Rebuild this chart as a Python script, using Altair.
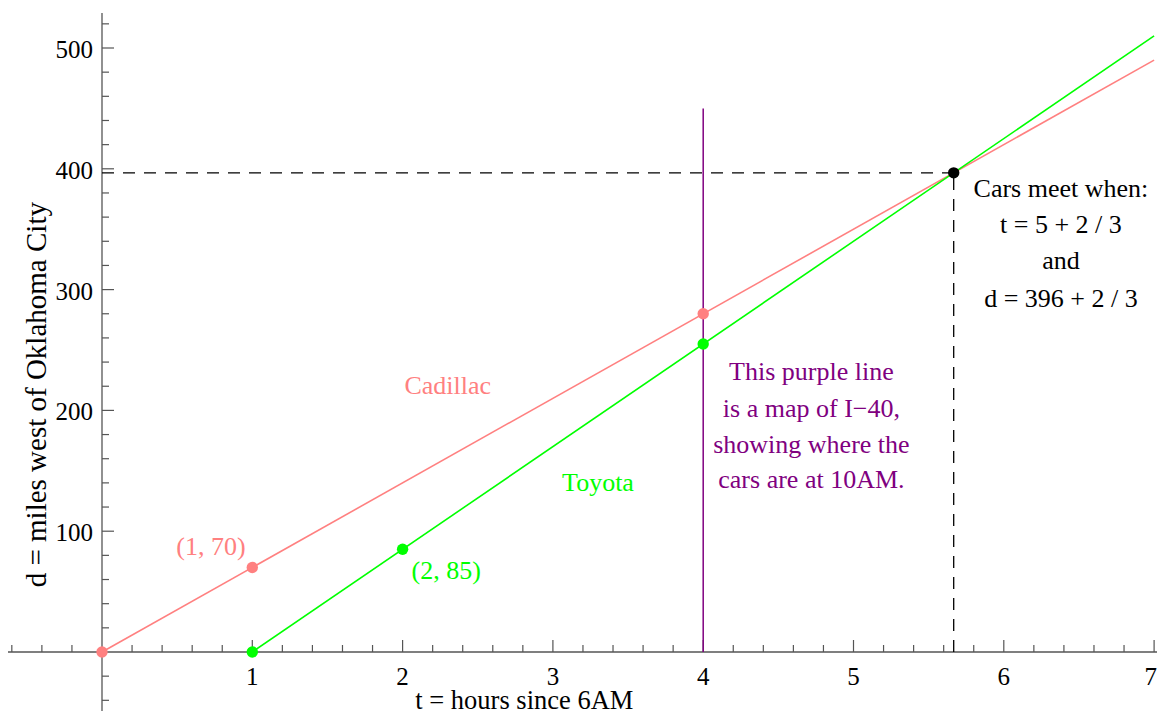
import altair as alt
import pandas as pd

# ---------------- data ----------------
cadillac_pts_t = [0, 1, 4]
cadillac_pts_d = [0, 70, 280]
cadillac_line_t = [0, 7]
cadillac_line_d = [0, 490]

toyota_pts_t = [1, 2, 4]
toyota_pts_d = [0, 85, 255]
toyota_line_t = [1, 7]
toyota_line_d = [0, 510]

meet_t = 5 + 2 / 3
meet_d = 396 + 2 / 3

i40_t = 4
i40_d = [0, 450]

x_major = [1, 2, 3, 4, 5, 6, 7]
x_minor = [round(i * 0.2, 1) for i in range(-3, 36) if i % 5 != 0]
y_major = [100, 200, 300, 400, 500]
y_minor = [v for v in range(-40, 521, 20) if v % 100 != 0]

x_title = "t = hours since 6AM"
y_title = "d = miles west of Oklahoma City"

purple_lines = ["This purple line", "is a map of I\u221240,", "showing where the", "cars are at 10AM."]
meet_lines = ["Cars meet when:", "t = 5 + 2 / 3", "and", "d = 396 + 2 / 3"]

PINK = "#ff8080"
GREEN = "#00ff00"
PURPLE = "#800080"
AXIS = "#555555"
FONT = "Liberation Serif"

# ---------------- scales ----------------
W, H = 1149, 703
PX_T = 150.3
PX_D = 1.208
X0 = -(102 - 8) / PX_T
X1 = X0 + W / PX_T
Y1 = (652 - 8) / PX_D
Y0 = Y1 - H / PX_D

xs = alt.Scale(domain=[X0, X1], nice=False, zero=False)
ys = alt.Scale(domain=[Y0, Y1], nice=False, zero=False)


def X(f="t"):
    return alt.X(f"{f}:Q", scale=xs, axis=None)


def Y(f="d"):
    return alt.Y(f"{f}:Q", scale=ys, axis=None)


# ---------------- axes ----------------
xaxis = alt.Chart(pd.DataFrame({"t": [X0], "t2": [X1], "d": [0]})).mark_rule(
    color=AXIS, strokeWidth=1.3
).encode(x=X(), x2="t2:Q", y=Y())

yaxis = alt.Chart(pd.DataFrame({"t": [0], "d": [Y0], "d2": [529]})).mark_rule(
    color=AXIS, strokeWidth=1.3
).encode(x=X(), y=Y(), y2="d2:Q")

xmaj = alt.Chart(pd.DataFrame({"t": x_major, "d": [0] * len(x_major)})).mark_tick(
    orient="vertical", size=12, thickness=1.2, yOffset=-6, color=AXIS, opacity=1
).encode(x=X(), y=Y())
xmin = alt.Chart(pd.DataFrame({"t": x_minor, "d": [0] * len(x_minor)})).mark_tick(
    orient="vertical", size=7, thickness=1.2, yOffset=-3.5, color=AXIS, opacity=1
).encode(x=X(), y=Y())
ymaj = alt.Chart(pd.DataFrame({"t": [0] * len(y_major), "d": y_major})).mark_tick(
    orient="horizontal", size=12, thickness=1.2, xOffset=6, color=AXIS, opacity=1
).encode(x=X(), y=Y())
ymin = alt.Chart(pd.DataFrame({"t": [0] * len(y_minor), "d": y_minor})).mark_tick(
    orient="horizontal", size=7, thickness=1.2, xOffset=3.5, color=AXIS, opacity=1
).encode(x=X(), y=Y())

inner_x = x_major[:-1]
xlab = alt.Chart(pd.DataFrame({"t": inner_x, "d": [0] * len(inner_x),
                               "lab": [str(v) for v in inner_x]})).mark_text(
    font=FONT, fontSize=25, align="center", baseline="alphabetic", dy=33, color="black"
).encode(x=X(), y=Y(), text="lab:N")
# last label kept inside the right edge
xlab_last = alt.Chart(pd.DataFrame({"t": [x_major[-1]], "d": [0],
                                    "lab": [str(x_major[-1])]})).mark_text(
    font=FONT, fontSize=25, align="right", baseline="alphabetic", dx=3, dy=33, color="black"
).encode(x=X(), y=Y(), text="lab:N")
ylab = alt.Chart(pd.DataFrame({"t": [0] * len(y_major), "d": y_major,
                               "lab": [str(v) for v in y_major]})).mark_text(
    font=FONT, fontSize=25, align="right", baseline="alphabetic", dx=-9, dy=10, color="black"
).encode(x=X(), y=Y(), text="lab:N")

xtitle = alt.Chart(pd.DataFrame({"t": [2.81], "d": [-47.5], "lab": [x_title]})).mark_text(
    font=FONT, fontSize=26.5, align="center", baseline="alphabetic", color="black"
).encode(x=X(), y=Y(), text="lab:N")
ytitle = alt.Chart(pd.DataFrame({"t": [-0.37], "d": [213], "lab": [y_title]})).mark_text(
    font=FONT, fontSize=29, align="center", baseline="alphabetic", angle=270, color="black"
).encode(x=X(), y=Y(), text="lab:N")

# ---------------- lines ----------------
cad_line = alt.Chart(pd.DataFrame({"t": cadillac_line_t, "d": cadillac_line_d})).mark_line(
    color=PINK, strokeWidth=1.6
).encode(x=X(), y=Y())
toy_line = alt.Chart(pd.DataFrame({"t": toyota_line_t, "d": toyota_line_d})).mark_line(
    color=GREEN, strokeWidth=1.6
).encode(x=X(), y=Y())

hdash = alt.Chart(pd.DataFrame({"t": [0], "t2": [meet_t], "d": [meet_d]})).mark_rule(
    color="black", strokeWidth=1.3, strokeDash=[12, 9]
).encode(x=X(), x2="t2:Q", y=Y())
vdash = alt.Chart(pd.DataFrame({"t": [meet_t], "d": [0], "d2": [meet_d]})).mark_rule(
    color="black", strokeWidth=1.3, strokeDash=[12, 9]
).encode(x=X(), y=Y(), y2="d2:Q")

i40 = alt.Chart(pd.DataFrame({"t": [i40_t], "d": [i40_d[0]], "d2": [i40_d[1]]})).mark_rule(
    color=PURPLE, strokeWidth=1.5
).encode(x=X(), y=Y(), y2="d2:Q")

pts = pd.DataFrame({
    "t": cadillac_pts_t + toyota_pts_t + [meet_t],
    "d": cadillac_pts_d + toyota_pts_d + [meet_d],
    "c": [PINK] * 3 + [GREEN] * 3 + ["black"],
})
points = alt.Chart(pts).mark_circle(size=130, opacity=1).encode(
    x=X(), y=Y(), color=alt.Color("c:N", scale=None)
)

# ---------------- annotations ----------------
ann = pd.DataFrame({
    "t": [2.30, 3.30, 0.725, 2.29] + [4.72] * 4 + [6.38] * 4,
    "d": [213.6, 133.3, 80.3, 60.4, 225.2, 194.5, 164.7, 135.8, 376.7, 346.9, 317.1, 285.6],
    "lab": ["Cadillac", "Toyota", "(1, 70)", "(2, 85)"] + purple_lines + meet_lines,
    "c": [PINK, GREEN, PINK, GREEN] + [PURPLE] * 4 + ["black"] * 4,
})
annotations = alt.Chart(ann).mark_text(
    font=FONT, fontSize=26, align="center", baseline="alphabetic"
).encode(x=X(), y=Y(), text="lab:N", color=alt.Color("c:N", scale=None))

chart = alt.layer(
    xaxis, yaxis, xmaj, xmin, ymaj, ymin, xlab, xlab_last, ylab, xtitle, ytitle,
    cad_line, toy_line, hdash, vdash, i40, points, annotations
).properties(
    width=W, height=H, autosize=alt.AutoSizeParams(type="none"), padding=0,
    background="white"
).configure_view(stroke=None)

chart.save("out.html", embed_options={"renderer": "svg", "actions": False})
